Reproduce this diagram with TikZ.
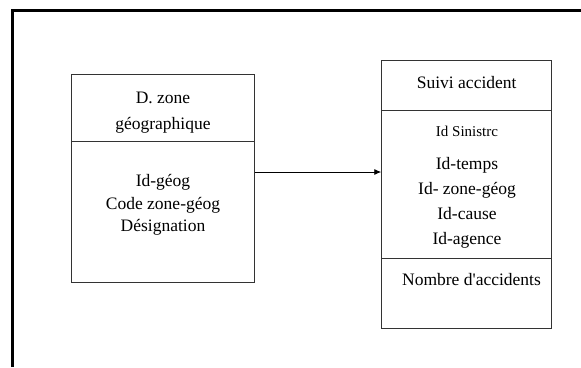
\documentclass[tikz,border=0pt]{standalone}
\usepackage{fontspec}
\setmainfont{Liberation Serif}
\usetikzlibrary{arrows.meta}
\begin{document}
\begin{tikzpicture}[x=1pt,y=-1pt,
  box/.style={draw=black!80,line width=0.9pt,rectangle,inner sep=0pt},
  txt/.style={font=\fontsize{17.5}{20}\selectfont,inner sep=0pt,anchor=base},
  small/.style={font=\fontsize{15}{17}\selectfont,inner sep=0pt,anchor=base},
  frame/.style={line width=3.6pt,black},
  link/.style={line width=0.9pt,-{Latex[length=7pt,width=6pt]}}]
\useasboundingbox (0,0) rectangle (581,367);
% outer frame
\draw[frame] (12.5,367) -- (12.5,10.5) -- (581,10.5);
% dimension table
\node[box,minimum width=183pt,minimum height=208.7pt] (geo) at (163.4,178.4) {};
\draw[black!80,line width=0.9pt] (geo.west |- 0,141.7) -- (geo.east |- 0,141.7);
\node[txt] (geot1) at (163,103) {D. zone};
\node[txt] (geot2) at (163,129) {géographique};
\node[txt] (geoa1) at (163,186) {Id-géog};
\node[txt] (geoa2) at (163,209) {Code zone-géog};
\node[txt] (geoa3) at (163,231) {Désignation};
% fact table
\node[box,minimum width=170pt,minimum height=268pt] (fact) at (466.7,194) {};
\draw[black!80,line width=0.9pt] (fact.west |- 0,110) -- (fact.east |- 0,110);
\draw[black!80,line width=0.9pt] (fact.west |- 0,258.3) -- (fact.east |- 0,258.3);
\node[txt] (factt) at (466.7,88) {Suivi accident};
\node[small] (facta0) at (467,136) {Id Sinistrc};
\node[txt] (facta1) at (467,169) {Id-temps};
\node[txt] (facta2) at (467,194) {Id- zone-géog};
\node[txt] (facta3) at (467,219) {Id-cause};
\node[txt] (facta4) at (467,244) {Id-agence};
\node[txt] (factm) at (471.5,285) {Nombre d\textquotesingle accidents};
% link
\coordinate (ly) at (0,172);
\draw[link] (geo.east |- ly) -- (fact.west |- ly);
\end{tikzpicture}
\end{document}
